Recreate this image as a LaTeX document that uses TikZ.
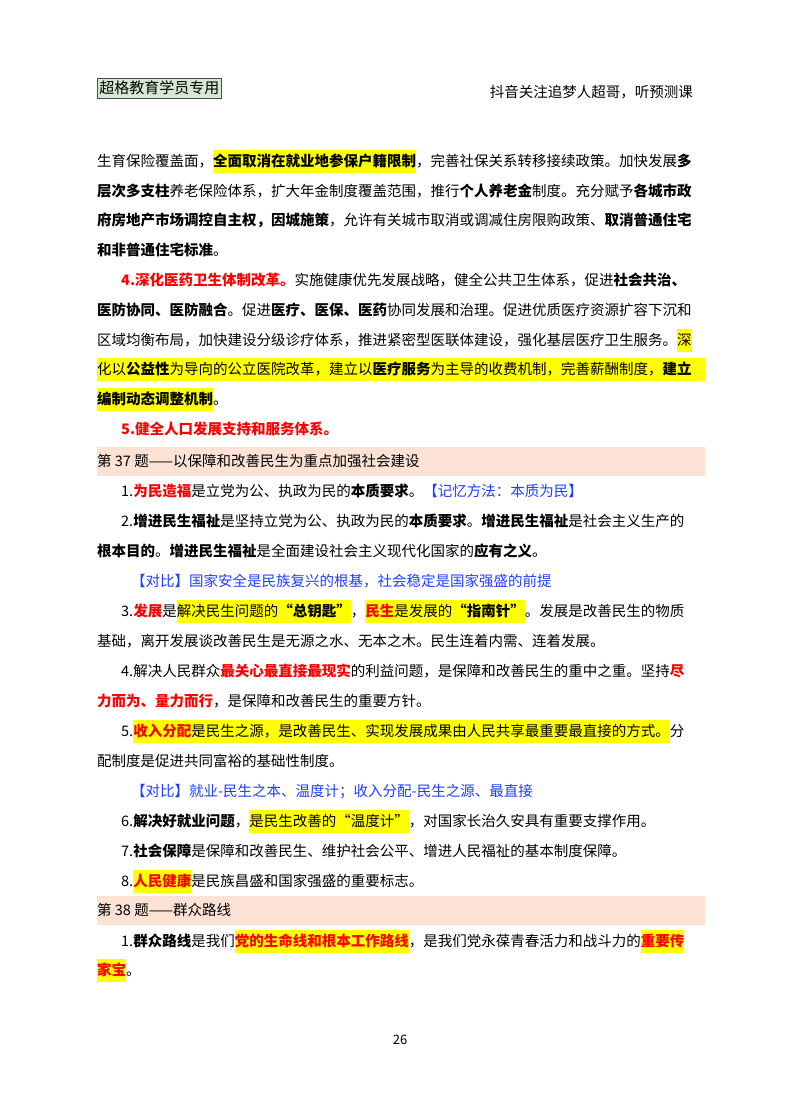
\documentclass[tikz,border=0pt]{standalone}
\usepackage{fontspec}
\setmainfont{Noto Sans CJK SC}
\XeTeXlinebreaklocale "zh"
\XeTeXlinebreakskip=0pt plus 4pt
\definecolor{hly}{HTML}{FFFF00}
\definecolor{rd}{HTML}{FF0000}
\definecolor{bl}{HTML}{1F3FFF}
\definecolor{band}{HTML}{FBE2D5}
\definecolor{hdr}{HTML}{D5E8D4}
\newcommand\B[1]{{\bfseries #1}}
\newcommand\R[1]{{\bfseries\color{rd}#1}}
\newcommand\BL[1]{{\color{bl}#1}}
\newcommand\hl[1]{{\setlength\fboxsep{0pt}\colorbox{hly}{\rule[-7pt]{0pt}{23pt}#1}}}
\newcommand\fl[1]{\makebox[608pt][s]{#1}}
\newcommand\il[1]{\makebox[584pt][s]{#1}}
\begin{document}
\begin{tikzpicture}[x=1pt,y=-1pt,
  ln/.style={anchor=base west,inner sep=0pt,font=\fontsize{14.5pt}{15pt}\selectfont},
  bandbox/.style={fill=band,draw=none}]
\useasboundingbox[fill=white] (0,0) rectangle (800,1114);
% header
\node[draw=black!70,fill=hdr,line width=0.9pt,inner xsep=2pt,inner ysep=3pt,minimum width=124pt,anchor=west,font=\fontsize{15pt}{15pt}\selectfont] (hd) at (97,88) {超格教育学员专用};
\node[anchor=east,inner sep=0pt,font=\fontsize{14.5pt}{14.5pt}\selectfont] (hr) at (693,92) {抖音关注追梦人超哥，听预测课};
% bands
\fill[band] (97,447) rectangle (705,476);
\fill[band] (97,896) rectangle (705,925);
\def\bo{5}
\node[ln] (l1) at (97,161+\bo) {\fl{生育保险覆盖面，\hl{\B{全面取消在就业地参保户籍限制}}，完善社保关系转移接续政策。加快发展\B{多}}};
\node[ln] (l2) at (97,191+\bo) {\fl{\B{层次多支柱}养老保险体系，扩大年金制度覆盖范围，推行\B{个人养老金}制度。充分赋予\B{各城市政}}};
\node[ln] (l3) at (97,220+\bo) {\fl{\B{府房地产市场调控自主权，因城施策}，允许有关城市取消或调减住房限购政策、\B{取消普通住宅}}};
\node[ln] (l4) at (97,250+\bo) {\B{和非普通住宅标准}。};
\node[ln] (l5) at (121,280+\bo) {\il{\R{4.深化医药卫生体制改革。}实施健康优先发展战略，健全公共卫生体系，促进\B{社会共治、}}};
\node[ln] (l6) at (97,310+\bo) {\fl{\B{医防协同、医防融合}。促进\B{医疗、医保、医药}协同发展和治理。促进优质医疗资源扩容下沉和}};
\node[ln] (l7) at (97,340+\bo) {\fl{区域均衡布局，加快建设分级诊疗体系，推进紧密型医联体建设，强化基层医疗卫生服务。\hl{深}}};
\node[ln] (l8) at (97,369+\bo) {\hl{\fl{化以\B{公益性}为导向的公立医院改革，建立以\B{医疗服务}为主导的收费机制，完善薪酬制度，\B{建立}}}};
\node[ln] (l9) at (97,399+\bo) {\hl{\B{编制动态调整机制}}。};
\node[ln] (l10) at (121,429+\bo) {\R{5.健全人口发展支持和服务体系。}};
\node[ln] (s37) at (97,461+\bo) {第 37 题——以保障和改善民生为重点加强社会建设};
\node[ln] (l11) at (121,491+\bo) {1.\R{为民造福}是立党为公、执政为民的\B{本质要求}。\BL{【记忆方法：本质为民】}};
\node[ln] (l12) at (121,521+\bo) {\il{2.\B{增进民生福祉}是坚持立党为公、执政为民的\B{本质要求}。\B{增进民生福祉}是社会主义生产的}};
\node[ln] (l13) at (97,551+\bo) {\B{根本目的}。\B{增进民生福祉}是全面建设社会主义现代化国家的\B{应有之义}。};
\node[ln] (l14) at (131,581+\bo) {\BL{【对比】国家安全是民族复兴的根基，社会稳定是国家强盛的前提}};
\node[ln] (l15) at (121,611+\bo) {\il{3.\R{发展}是\hl{解决民生问题的\B{“总钥匙”}}，\hl{\R{民生}是发展的\B{“指南针”}}。发展是改善民生的物质}};
\node[ln] (l16) at (97,641+\bo) {基础，离开发展谈改善民生是无源之水、无本之木。民生连着内需、连着发展。};
\node[ln] (l17) at (121,671+\bo) {\il{4.解决人民群众\R{最关心最直接最现实}的利益问题，是保障和改善民生的重中之重。坚持\R{尽}}};
\node[ln] (l18) at (97,701+\bo) {\R{力而为、量力而行}，是保障和改善民生的重要方针。};
\node[ln] (l19) at (121,731+\bo) {\il{5.\hl{\R{收入分配}是民生之源，是改善民生、实现发展成果由人民共享最重要最直接的方式。}分}};
\node[ln] (l20) at (97,761+\bo) {配制度是促进共同富裕的基础性制度。};
\node[ln] (l21) at (131,791+\bo) {\BL{【对比】就业-民生之本、温度计；收入分配-民生之源、最直接}};
\node[ln] (l22) at (121,821+\bo) {6.\B{解决好就业问题}，\hl{是民生改善的“温度计”}，对国家长治久安具有重要支撑作用。};
\node[ln] (l23) at (121,851+\bo) {7.\B{社会保障}是保障和改善民生、维护社会公平、增进人民福祉的基本制度保障。};
\node[ln] (l24) at (121,881+\bo) {8.\hl{\R{人民健康}}是民族昌盛和国家强盛的重要标志。};
\node[ln] (s38) at (97,910+\bo) {第 38 题——群众路线};
\node[ln] (l25) at (121,941+\bo) {\il{1.\B{群众路线}是我们\hl{\R{党的生命线和根本工作路线}}，是我们党永葆青春活力和战斗力的\hl{\R{重要传}}}};
\node[ln] (l26) at (97,970+\bo) {\hl{\R{家宝}}。};
\node[anchor=center,inner sep=0pt,font=\fontsize{13pt}{13pt}\selectfont] (pg) at (400,1040) {26};
\end{tikzpicture}
\end{document}
